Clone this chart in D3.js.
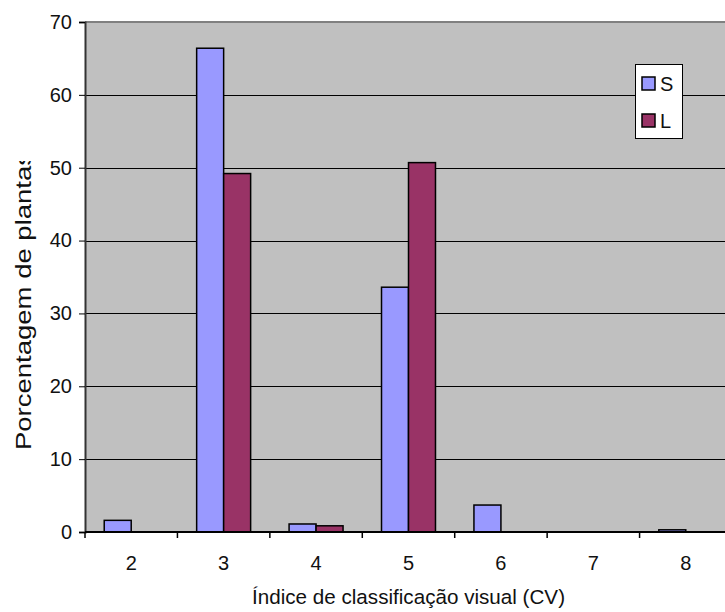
<!DOCTYPE html>
<html>
<head>
<meta charset="utf-8">
<script src="https://cdn.jsdelivr.net/npm/d3@7"></script>
<style>
  html, body { margin: 0; padding: 0; background: #ffffff; }
  svg { display: block; font-family: Arial, "Liberation Sans", sans-serif; }
</style>
</head>
<body>
<svg id="chart" width="725" height="612"></svg>
<script>
// Categories on the x axis (CV index)
const categories = ["2", "3", "4", "5", "6", "7", "8"];
// Series values (% of plants)
const seriesS = [1.6, 66.4, 1.1, 33.6, 3.7, 0, 0.3];
const seriesL = [0, 49.2, 0.85, 50.7, 0, 0, 0];
const seriesNames = ["S", "L"];
const seriesColors = ["#9999ff", "#993366"];
const yTicks = [0, 10, 20, 30, 40, 50, 60, 70];

const svg = d3.select("#chart");
const plot = { left: 85, top: 22, right: 732, bottom: 532 };

const x = d3.scaleBand()
  .domain(categories)
  .range([plot.left, plot.right])
  .paddingInner(0.416)
  .paddingOuter(0.208);

const x1 = d3.scaleBand()
  .domain(seriesNames)
  .range([0, x.bandwidth()]);

const y = d3.scaleLinear()
  .domain([0, 70])
  .range([plot.bottom, plot.top]);

// plot background
svg.append("rect")
  .attr("x", plot.left).attr("y", plot.top)
  .attr("width", plot.right - plot.left).attr("height", plot.bottom - plot.top)
  .attr("fill", "#c0c0c0");

// horizontal gridlines
svg.append("g")
  .selectAll("line")
  .data(yTicks.filter(d => d > 0 && d < 70))
  .join("line")
  .attr("x1", plot.left).attr("x2", plot.right)
  .attr("y1", d => Math.round(y(d)) + 0.5).attr("y2", d => Math.round(y(d)) + 0.5)
  .attr("stroke", "#000").attr("stroke-width", 1);

// top border of plot area
svg.append("line")
  .attr("x1", plot.left).attr("x2", plot.right)
  .attr("y1", y(70)).attr("y2", y(70))
  .attr("stroke", "#808080").attr("stroke-width", 2);

// bars
const rows = categories.map((c, i) => ({ cat: c, values: [seriesS[i], seriesL[i]] }));
svg.append("g")
  .selectAll("g")
  .data(rows)
  .join("g")
  .attr("transform", d => `translate(${x(d.cat)},0)`)
  .selectAll("rect")
  .data(d => d.values.map((v, j) => ({ name: seriesNames[j], value: v, color: seriesColors[j] })).filter(d => d.value > 0))
  .join("rect")
  .attr("x", d => x1(d.name))
  .attr("y", d => y(d.value))
  .attr("width", x1.bandwidth())
  .attr("height", d => y(0) - y(d.value))
  .attr("fill", d => d.color)
  .attr("stroke", "#000")
  .attr("stroke-width", 1.5);

// y axis
const yAxis = d3.axisLeft(y).tickValues(yTicks).tickSize(6).tickPadding(7).tickFormat(d3.format("d"));
const gy = svg.append("g")
  .attr("transform", `translate(${plot.left},0)`)
  .call(yAxis);
gy.select(".domain").attr("stroke", "#333").attr("stroke-width", 2);
gy.selectAll(".tick line").attr("stroke", "#000");
gy.selectAll(".tick text").attr("font-size", 20).attr("fill", "#111")
  .attr("font-family", "Arial, 'Liberation Sans', sans-serif");

// x axis: ticks on the category boundaries
const gx = svg.append("g")
  .attr("transform", `translate(0,${plot.bottom})`);
gx.append("line")
  .attr("x1", plot.left).attr("x2", plot.right)
  .attr("stroke", "#000").attr("stroke-width", 2);
const step = x.step();
gx.selectAll("line.tk")
  .data(categories.map((c, i) => i))
  .join("line")
  .attr("class", "tk")
  .attr("x1", i => plot.left + i * step).attr("x2", i => plot.left + i * step)
  .attr("y1", 0).attr("y2", 6)
  .attr("stroke", "#000").attr("stroke-width", 1.5);
gx.selectAll("text")
  .data(categories)
  .join("text")
  .attr("x", d => x(d) + x.bandwidth() / 2)
  .attr("y", 38)
  .attr("text-anchor", "middle")
  .attr("font-size", 20)
  .attr("fill", "#111")
  .text(d => d);

// axis titles
svg.append("text")
  .attr("x", 252).attr("y", 604)
  .attr("text-anchor", "start")
  .attr("font-size", 20.5)
  .attr("textLength", 313)
  .attr("lengthAdjust", "spacingAndGlyphs")
  .attr("fill", "#111")
  .text("Índice de classificação visual (CV)");

svg.append("clipPath").attr("id", "ytitle-clip")
  .append("rect").attr("x", 0).attr("y", 161).attr("width", 60).attr("height", 400);
svg.append("g").attr("clip-path", "url(#ytitle-clip)")
  .append("text")
  .attr("transform", "translate(31,450) rotate(-90)")
  .attr("text-anchor", "start")
  .attr("font-size", 21.5)
  .attr("textLength", 298)
  .attr("lengthAdjust", "spacingAndGlyphs")
  .attr("fill", "#111")
  .text("Porcentagem de plantas");

// legend
const lg = svg.append("g").attr("transform", "translate(635,64)");
lg.append("rect").attr("x", 0.5).attr("y", 0.5).attr("width", 47).attr("height", 74)
  .attr("fill", "#fff").attr("stroke", "#000").attr("stroke-width", 1);
seriesNames.forEach((name, i) => {
  const yy = 13 + i * 37;
  lg.append("rect").attr("x", 7).attr("y", yy).attr("width", 13).attr("height", 13)
    .attr("fill", seriesColors[i]).attr("stroke", "#000").attr("stroke-width", 1.5);
  lg.append("text").attr("x", 25).attr("y", yy + 13.5).attr("font-size", 20)
    .attr("fill", "#111").text(name);
});
</script>
</body>
</html>
